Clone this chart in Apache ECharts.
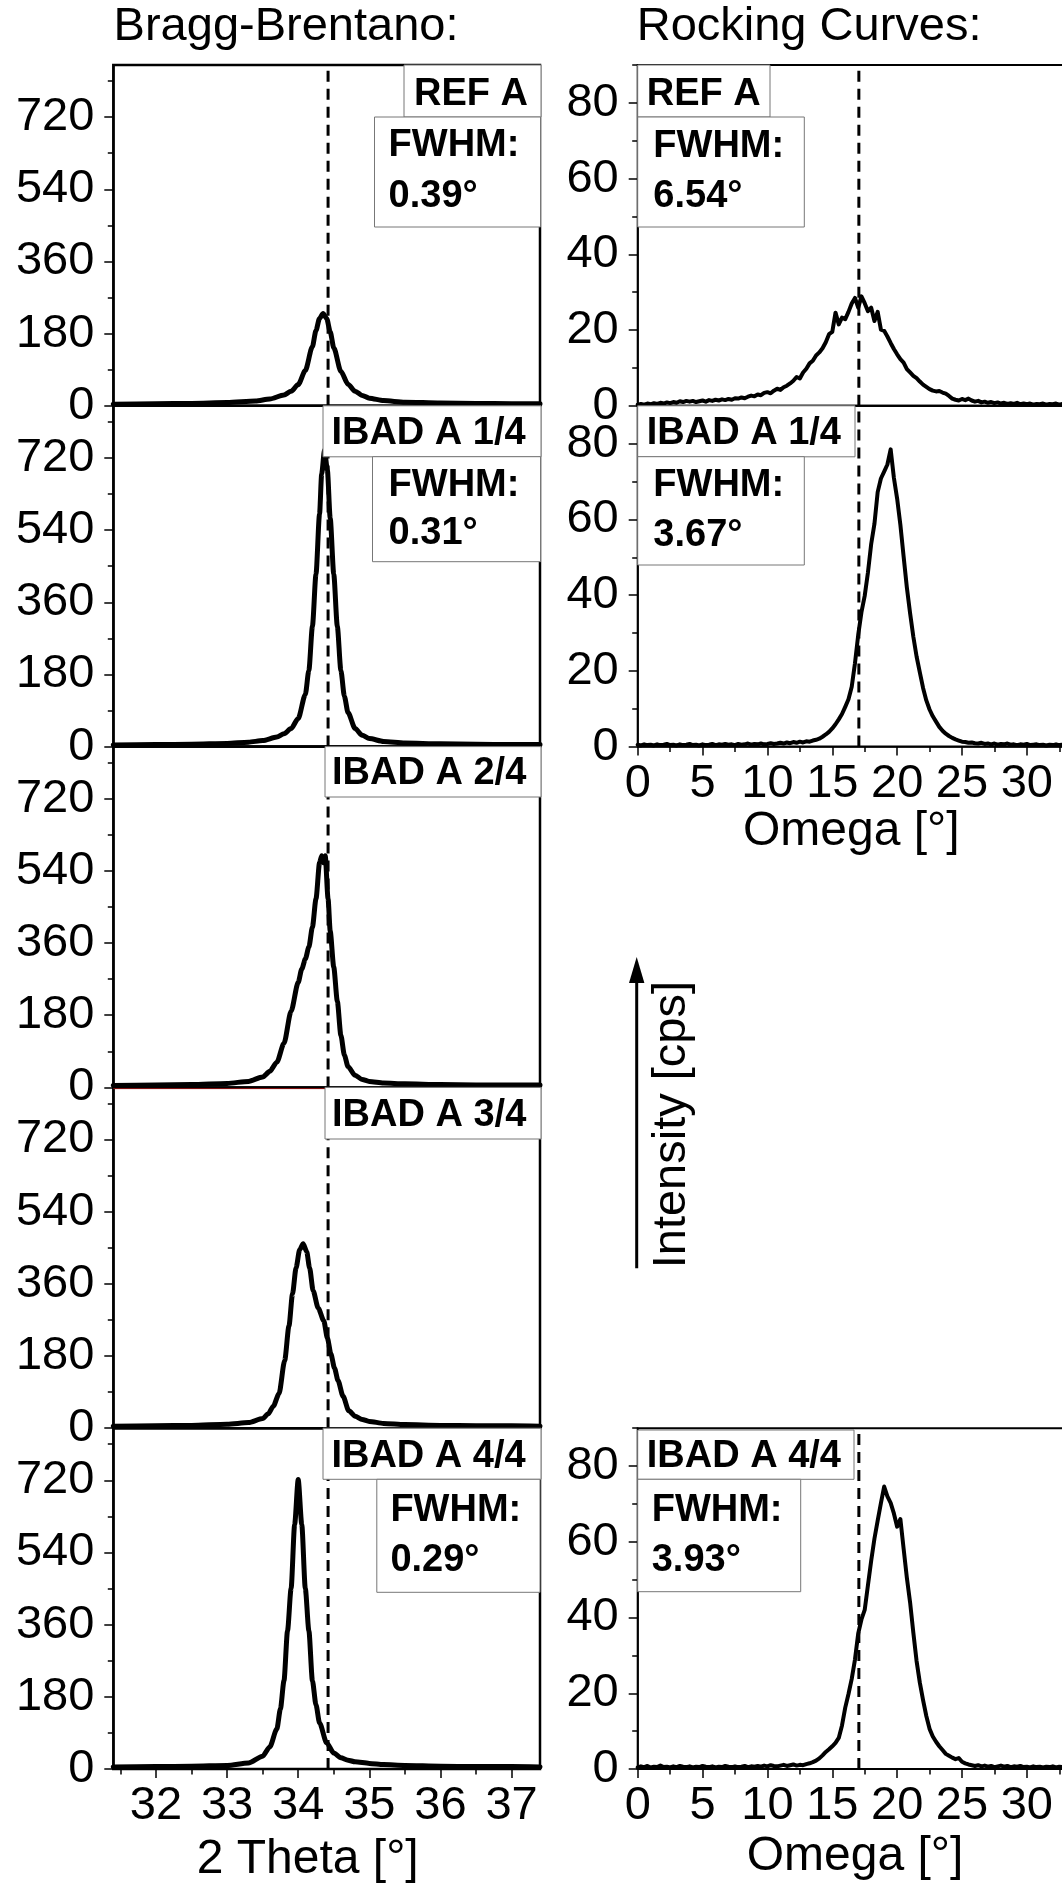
<!DOCTYPE html>
<html><head><meta charset="utf-8">
<script src="https://cdn.jsdelivr.net/npm/echarts@6/dist/echarts.min.js"></script>
<style>html,body{margin:0;padding:0;background:#fff}#c{width:1062px;height:1887px}</style>
</head><body><div id="c"></div>
<script>
// ---------------- DATA ----------------
// Bragg-Brentano scans: 2 Theta [deg] -> Intensity [cps]
const BB_X_REF = [31.4, 32.0, 32.5, 33.0, 33.4, 33.6, 33.8, 33.9, 34.0, 34.1, 34.2, 34.25, 34.3, 34.35, 34.4, 34.45, 34.5, 34.6, 34.7, 34.8, 34.9, 35.0, 35.2, 35.5, 36.0, 36.5, 37.0, 37.4];
const BB_Y_REF = [4, 5, 6, 8, 12, 17, 27, 36, 53, 88, 148, 188, 218, 230, 218, 185, 145, 86, 54, 36, 26, 19, 13, 9, 7, 6, 5, 5];

const BB_X_14 = [31.4, 32.0, 32.5, 33.0, 33.3, 33.5, 33.7, 33.8, 33.9, 34.0, 34.1, 34.15, 34.2, 34.25, 34.3, 34.33, 34.37, 34.41, 34.45, 34.5, 34.55, 34.6, 34.65, 34.7, 34.8, 34.9, 35.0, 35.2, 35.5, 36.0, 36.5, 37.0, 37.4];
const BB_Y_14 = [4, 5, 6, 8, 11, 15, 24, 32, 45, 70, 130, 190, 300, 430, 580, 680, 740, 690, 570, 430, 300, 190, 125, 85, 45, 28, 20, 13, 9, 7, 6, 5, 5];

const BB_X_24 = [31.4, 32.0, 32.5, 33.0, 33.3, 33.5, 33.6, 33.7, 33.8, 33.9, 34.0, 34.05, 34.1, 34.15, 34.2, 34.25, 34.3, 34.33, 34.355, 34.38, 34.42, 34.45, 34.5, 34.55, 34.6, 34.65, 34.7, 34.8, 34.9, 35.0, 35.2, 35.5, 36.0, 36.5, 37.0, 37.4];
const BB_Y_24 = [5, 6, 7, 10, 15, 26, 40, 63, 110, 190, 262, 295, 320, 350, 400, 470, 560, 578, 560, 578, 470, 390, 300, 215, 130, 80, 52, 30, 20, 15, 11, 9, 7, 6, 6, 6];

const BB_X_34 = [31.4, 32.0, 32.5, 33.0, 33.3, 33.5, 33.58, 33.65, 33.73, 33.81, 33.87, 33.92, 33.97, 34.02, 34.07, 34.12, 34.16, 34.21, 34.28, 34.36, 34.41, 34.46, 34.51, 34.56, 34.63, 34.71, 34.8, 34.9, 35.0, 35.2, 35.5, 36.0, 36.5, 37.0, 37.4];
const BB_Y_34 = [5, 6, 7, 10, 14, 24, 36, 55, 86, 169, 255, 335, 400, 445, 460, 440, 400, 343, 300, 268, 225, 185, 150, 119, 80, 44, 30, 22, 17, 12, 9, 7, 6, 6, 5];

const BB_X_44 = [31.4, 32.0, 32.5, 33.0, 33.3, 33.5, 33.6, 33.7, 33.75, 33.8, 33.85, 33.9, 33.95, 34.0, 34.05, 34.1, 34.15, 34.2, 34.25, 34.3, 34.4, 34.5, 34.6, 34.7, 34.8, 35.0, 35.2, 35.5, 36.0, 36.5, 37.0, 37.4];
const BB_Y_44 = [5, 6, 7, 9, 15, 32, 55, 100, 150, 220, 345, 450, 610, 722, 610, 450, 345, 220, 160, 115, 65, 40, 28, 22, 18, 14, 11, 9, 7, 6, 6, 5];

// Rocking curves: Omega sampled every RC_STEP deg starting at 0
const RC_STEP = 0.25;
const RC_Y_REF = [
  0.3, 0.5, 0.3, 0.6, 0.4, 0.7, 0.5, 0.8,
  0.6, 0.9, 0.7, 1.0, 0.8, 1.2, 1.0, 1.3,
  1.1, 1.3, 1.0, 1.2, 1.4, 1.1, 1.5, 1.3,
  1.6, 1.4, 1.7, 1.5, 1.8, 1.6, 2.0, 1.9,
  2.2, 2.0, 2.4, 2.7, 2.5, 3.0, 2.8, 3.4,
  3.6, 3.3, 4.0, 4.5, 4.2, 4.9, 5.3, 5.9,
  6.6, 7.6, 7.2, 8.8, 9.8, 11.2, 11.9, 13.3,
  14.1, 15.2, 16.8, 18.9, 19.5, 24.6, 21.5, 23.3,
  22.9, 24.8, 27.0, 28.5, 25.9, 28.9, 27.1, 25.0,
  25.9, 22.4, 24.8, 20.1, 19.8, 18.3, 16.6, 15.0,
  13.6, 12.3, 11.4, 9.7, 8.8, 7.9, 7.3, 6.4,
  5.6, 5.0, 4.4, 4.0, 3.8, 3.9, 3.5, 3.2,
  2.6, 1.9, 1.6, 1.4, 1.8, 1.5, 1.9, 1.4,
  1.1, 1.3, 0.9, 1.1, 0.8, 1.0, 0.7, 0.9,
  0.6, 0.8, 0.5, 0.7, 0.5, 0.8, 0.4, 0.6,
  0.4, 0.6, 0.3, 0.5, 0.4, 0.6, 0.3, 0.5,
  0.4, 0.6, 0.3, 0.5, 0.4
];
const RC_Y_14 = [
  0.5, 0.3, 0.6, 0.4, 0.5, 0.3, 0.6, 0.4,
  0.5, 0.7, 0.4, 0.5, 0.3, 0.6, 0.4, 0.5,
  0.7, 0.4, 0.5, 0.3, 0.6, 0.4, 0.5, 0.7,
  0.4, 0.6, 0.5, 0.7, 0.5, 0.6, 0.4, 0.7,
  0.5, 0.6, 0.8, 0.5, 0.7, 0.6, 0.8, 0.6,
  0.7, 0.9, 0.7, 0.8, 1.0, 0.8, 1.1, 0.9,
  1.2, 1.0, 1.3, 1.1, 1.4, 1.3, 1.6, 1.8,
  2.1, 2.6, 3.2, 3.9, 4.8, 5.9, 7.2, 8.6,
  10.5, 12.5, 15.8, 22.0, 29.5, 35.5, 39.8, 46.0,
  53.5, 58.8, 67.2, 70.8, 72.6, 74.5, 78.5, 71.0,
  65.5, 58.6, 50.2, 42.0, 35.2, 29.0, 23.8, 19.6,
  15.5, 12.2, 9.8, 8.0, 6.6, 5.2, 4.2, 3.4,
  2.8, 2.3, 1.9, 1.6, 1.3, 1.2, 1.0, 1.1,
  0.9, 0.8, 1.0, 0.7, 0.8, 0.6, 0.8, 0.5,
  0.7, 0.6, 0.8, 0.5, 0.6, 0.4, 0.6, 0.5,
  0.7, 0.4, 0.5, 0.6, 0.4, 0.5, 0.3, 0.5,
  0.4, 0.6, 0.4, 0.5, 0.4
];
const RC_Y_44 = [
  0.4, 0.7, 0.5, 0.8, 0.4, 0.6, 0.5, 0.9,
  0.5, 0.6, 0.4, 0.7, 0.5, 0.8, 0.6, 0.5,
  0.7, 0.4, 0.6, 0.5, 0.8, 0.6, 0.5, 0.7,
  0.4, 0.6, 0.5, 0.8, 0.6, 0.5, 0.7, 0.5,
  0.6, 0.8, 0.5, 0.7, 0.6, 0.8, 0.6, 0.9,
  0.7, 1.0, 0.8, 0.7, 0.9, 1.1, 0.8, 1.0,
  1.2, 0.9, 1.1, 1.0, 1.3, 1.5, 1.8, 2.2,
  2.8, 3.6, 4.5, 5.2, 6.0, 6.9, 8.2, 11.5,
  16.2, 19.8, 23.8, 28.9, 35.8, 39.5, 42.0, 48.5,
  55.0, 60.8, 65.6, 70.2, 74.6, 72.0, 70.3, 67.5,
  64.0, 66.0, 58.2, 50.5, 44.0, 36.0, 28.5, 22.8,
  18.2, 14.0, 10.6, 8.6, 7.2, 6.0, 5.0, 4.0,
  3.5, 3.0, 2.6, 2.9, 1.9, 1.5, 1.2, 1.0,
  0.8, 1.0, 0.7, 0.9, 0.6, 0.8, 0.5, 0.7,
  0.9, 0.6, 0.8, 0.5, 0.7, 0.6, 0.8, 0.5,
  0.6, 0.4, 0.7, 0.5, 0.6, 0.4, 0.6, 0.5,
  0.7, 0.4, 0.6, 0.5, 0.4
];

// reference (dashed) positions
const BB_REF_LINE = 34.42;
const RC_REF_LINE = 17.05;

// ticks
const BB_X_MAJOR = [32, 33, 34, 35, 36, 37];
const BB_X_MINOR = [31.5, 32.5, 33.5, 34.5, 35.5, 36.5];
const BB_Y_MAJOR = [0, 180, 360, 540, 720];
const BB_Y_MINOR = [90, 270, 450, 630, 810];
const RC_X_MAJOR = [0, 5, 10, 15, 20, 25, 30, 35];
const RC_X_MINOR = [2.5, 7.5, 12.5, 17.5, 22.5, 27.5, 32.5];
const RC_Y_MAJOR = [0, 20, 40, 60, 80];
const RC_Y_MINOR = [10, 30, 50, 70, 90];

// labels
const PANEL_LABELS = ['REF A', 'IBAD A 1/4', 'IBAD A 2/4', 'IBAD A 3/4', 'IBAD A 4/4'];
const FWHM_BB = ['0.39°', '0.31°', '0.29°'];
const FWHM_RC = ['6.54°', '3.67°', '3.93°'];

// ---------------- LAYOUT ----------------
const FONT = '"Liberation Sans", Arial, Helvetica, sans-serif';
const ROW_TOP = [65, 405.8, 746.6, 1087.4, 1428.2];
const ROW_H = 340.8;
const L_LEFT = 113.3, L_W = 426.7;
const R_LEFT = 637.7, R_W = 454;

const zip = (xs, ys) => xs.map((x, i) => [x, ys[i]]);
const rcPairs = ys => ys.map((y, i) => [i * RC_STEP, y]);

const panels = [
  {side: 'L', row: 0, data: zip(BB_X_REF, BB_Y_REF), bottom: false},
  {side: 'L', row: 1, data: zip(BB_X_14, BB_Y_14), bottom: false},
  {side: 'L', row: 2, data: zip(BB_X_24, BB_Y_24), bottom: false},
  {side: 'L', row: 3, data: zip(BB_X_34, BB_Y_34), bottom: false},
  {side: 'L', row: 4, data: zip(BB_X_44, BB_Y_44), bottom: true},
  {side: 'R', row: 0, data: rcPairs(RC_Y_REF), bottom: false},
  {side: 'R', row: 1, data: rcPairs(RC_Y_14), bottom: true},
  {side: 'R', row: 4, data: rcPairs(RC_Y_44), bottom: true}
];

const grids = [], xAxes = [], yAxes = [], series = [];
const labelStyle = {fontSize: 47, fontFamily: FONT, color: '#000'};

panels.forEach((p, gi) => {
  const L = p.side === 'L';
  const xmin = L ? 31.4 : 0, xmax = L ? 37.4 : 35;
  const ymax = L ? 850 : 90;
  grids.push({
    left: L ? L_LEFT : R_LEFT, width: L ? L_W : R_W,
    top: ROW_TOP[p.row], height: ROW_H,
    containLabel: false, outerBoundsMode: 'none',
    show: true, borderColor: '#000', borderWidth: L ? 2.5 : 2, backgroundColor: 'transparent'
  });
  const xi = xAxes.length;
  xAxes.push({
    type: 'value', gridIndex: gi, min: xmin, max: xmax, position: 'bottom',
    axisLine: {show: true, onZero: false, lineStyle: {color: '#000', width: 1.5}},
    axisTick: {show: p.bottom, customValues: L ? BB_X_MAJOR : RC_X_MAJOR, length: 9, lineStyle: {color: '#000', width: 1.5}},
    axisLabel: Object.assign({show: p.bottom, customValues: L ? BB_X_MAJOR : RC_X_MAJOR, margin: 14}, labelStyle),
    splitLine: {show: false}
  });
  if (p.bottom) {
    xAxes.push({
      type: 'value', gridIndex: gi, min: xmin, max: xmax, position: 'bottom',
      axisLine: {show: false, onZero: false},
      axisTick: {show: true, customValues: L ? BB_X_MINOR : RC_X_MINOR, length: 5.5, lineStyle: {color: '#000', width: 1.5}},
      axisLabel: {show: false}, splitLine: {show: false}
    });
  }
  const yi = yAxes.length;
  yAxes.push({
    type: 'value', gridIndex: gi, min: 0, max: ymax, position: 'left',
    axisLine: {show: true, onZero: false, lineStyle: {color: '#000', width: 1.5}},
    axisTick: {show: true, customValues: L ? BB_Y_MAJOR : RC_Y_MAJOR, length: 9, lineStyle: {color: '#000', width: 1.5}},
    axisLabel: Object.assign({show: true, customValues: L ? BB_Y_MAJOR : RC_Y_MAJOR, margin: 19}, labelStyle),
    splitLine: {show: false}
  });
  yAxes.push({
    type: 'value', gridIndex: gi, min: 0, max: ymax, position: 'left',
    axisLine: {show: false, onZero: false},
    axisTick: {show: true, customValues: L ? BB_Y_MINOR : RC_Y_MINOR, length: 5.5, lineStyle: {color: '#000', width: 1.5}},
    axisLabel: {show: false}, splitLine: {show: false}
  });
  const refX = L ? BB_REF_LINE : RC_REF_LINE;
  series.push({
    type: 'line', xAxisIndex: xi, yAxisIndex: yi, data: [[refX, 0], [refX, ymax]],
    symbol: 'none', silent: true, z: 2, animation: false,
    lineStyle: {color: '#000', width: 3, type: [11, 7]}
  });
  series.push({
    type: 'line', xAxisIndex: xi, yAxisIndex: yi, data: p.data,
    symbol: 'none', showSymbol: false, silent: true, z: 3, clip: true,
    smooth: L ? 0.25 : false, smoothMonotone: 'x',
    lineStyle: {color: '#000', width: L ? 5 : 4, cap: 'round', join: 'round'}
  });
});

// ---------------- GRAPHICS (labels, boxes, titles) ----------------
function txt(x, baseline, str, size, weight) {
  return {
    type: 'text', x: x, y: baseline - 0.3465 * size, z: 120,
    style: {text: str, font: (weight || 'normal') + ' ' + size + 'px ' + FONT, fill: '#000',
            textAlign: 'left', align: 'left', textVerticalAlign: 'middle', verticalAlign: 'middle'}
  };
}
function box(x, y, w, h) {
  return {type: 'rect', z: 110, shape: {x: x, y: y, width: w, height: h},
          style: {fill: '#fff', stroke: '#777', lineWidth: 1}};
}
const B = 38;
const graphics = [
  // boxes
  box(404, 65, 137, 52), box(374.5, 117, 166, 110),
  box(637.7, 65, 132.3, 52), box(637.7, 117, 166.6, 110),
  box(323, 405.8, 218, 51), box(372.5, 456.7, 168, 105),
  box(637.7, 405.8, 217.3, 51), box(637.7, 456.7, 166.6, 108.3),
  box(325, 746.6, 216, 50.4),
  box(325, 1087.4, 216, 51.6),
  box(323, 1428.2, 218, 51.1), box(376.8, 1479.3, 163.2, 113),
  box(637.7, 1430, 216.3, 49.3), box(637.7, 1479.3, 163, 112.4),
  // box texts
  txt(414, 107.3, PANEL_LABELS[0], B, 'bold'), txt(388.6, 158.3, 'FWHM:', B, 'bold'), txt(388.6, 210, FWHM_BB[0], B, 'bold'),
  txt(646.7, 107.3, PANEL_LABELS[0], B, 'bold'), txt(653.3, 159.3, 'FWHM:', B, 'bold'), txt(653.3, 210, FWHM_RC[0], B, 'bold'),
  txt(331.4, 446.7, PANEL_LABELS[1], B, 'bold'), txt(388.6, 498.3, 'FWHM:', B, 'bold'), txt(388.6, 546.7, FWHM_BB[1], B, 'bold'),
  txt(646.7, 446.7, PANEL_LABELS[1], B, 'bold'), txt(653.3, 498.3, 'FWHM:', B, 'bold'), txt(653.3, 548.3, FWHM_RC[1], B, 'bold'),
  txt(332, 786.7, PANEL_LABELS[2], B, 'bold'),
  txt(332, 1128.3, PANEL_LABELS[3], B, 'bold'),
  txt(331.4, 1470, PANEL_LABELS[4], B, 'bold'), txt(390.4, 1524, 'FWHM:', B, 'bold'), txt(390.4, 1573.3, FWHM_BB[2], B, 'bold'),
  txt(646.7, 1470, PANEL_LABELS[4], B, 'bold'), txt(651.7, 1524, 'FWHM:', B, 'bold'), txt(651.7, 1573.3, FWHM_RC[2], B, 'bold'),
  // titles
  txt(113.6, 43.3, 'Bragg-Brentano:', 47), txt(636.7, 43.3, 'Rocking Curves:', 47),
  txt(196.7, 1876.7, '2 Theta [°]', 48),
  txt(743, 848.3, 'Omega [°]', 48), txt(746.7, 1873.3, 'Omega [°]', 48),
  // Intensity arrow + rotated label
  {type: 'line', z: 120, shape: {x1: 636.7, y1: 1268.3, x2: 636.7, y2: 978}, style: {stroke: '#000', lineWidth: 3}},
  {type: 'polygon', z: 120, shape: {points: [[636.7, 957], [629, 983], [644.4, 983]]}, style: {fill: '#000'}},
  {type: 'text', x: 672, y: 1268.3, rotation: Math.PI / 2, z: 120,
   style: {text: 'Intensity [cps]', font: '47px ' + FONT, fill: '#000', textAlign: 'left', align: 'left',
           textVerticalAlign: 'middle', verticalAlign: 'middle'}},
  // thin dark-red boundary line between panels 3 and 4
  {type: 'line', z: 100, shape: {x1: L_LEFT, y1: 1088.6, x2: L_LEFT + L_W, y2: 1088.6}, style: {stroke: '#8b1010', lineWidth: 1}}
];

const chart = echarts.init(document.getElementById('c'), null, {renderer: 'canvas', width: 1062, height: 1887});
chart.setOption({
  animation: false,
  backgroundColor: '#fff',
  grid: grids, xAxis: xAxes, yAxis: yAxes, series: series,
  graphic: {elements: graphics}
});
</script></body></html>
